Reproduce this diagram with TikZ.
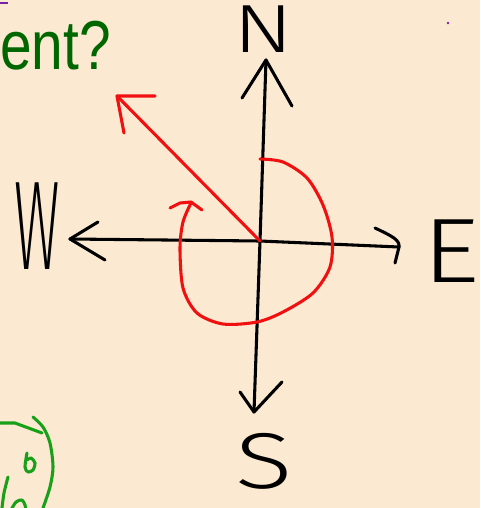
\documentclass[tikz,border=0pt]{standalone}
\usepackage{fontspec}
\usepackage{graphicx}
\setmainfont{Liberation Sans}
\newfontfamily\handfont{Fira Sans}[UprightFont=* Light]
\definecolor{slidePeach}{HTML}{FCE9D2}
\definecolor{titleGreen}{HTML}{006600}
\definecolor{penRed}{HTML}{F01010}
\definecolor{penGreen}{HTML}{18A018}
\definecolor{penPurple}{HTML}{7A1FA8}
\tikzset{
  ink/.style={line width=2.3pt, line cap=round, line join=round},
  letter/.style={inner sep=0pt, font=\handfont},
}

\begin{document}
\begin{tikzpicture}[x=0.75pt, y=-0.75pt]
  \useasboundingbox (0,0) rectangle (480,508);
  \clip (0,0) rectangle (480,508);
  \fill[slidePeach] (0,0) rectangle (480,508);

  % what is left of the slide title
  \node[font=\fontsize{52}{52}\selectfont, text=titleGreen, anchor=base west, inner sep=0pt] (title) at (0,69) {\scalebox{0.82}[1]{ent?}};
  \draw[penPurple, line width=2pt] (0,3) -- (8,3);
  \fill[penPurple] (448,23) circle (1.3);

  % compass
  \coordinate (O) at (260,241);
  \coordinate (Ntip) at (266,60);
  \coordinate (Stip) at (254,412);
  \coordinate (Wtip) at (70,239);
  \coordinate (Etip) at (399,247);
  \draw[ink] (Ntip) -- (O) -- (Stip);
  \draw[ink] (Wtip) -- (O) -- (Etip);
  \draw[ink] (242,98) -- (Ntip) -- (292,106);
  \draw[ink] (98,222) -- (Wtip) -- (105,260);
  \draw[ink] (375,228) .. controls (392,236) and (400,240) .. (Etip) -- (395,263);
  \draw[ink] (240,392) -- (Stip) -- (282,382);

  \node[letter] (N) at (264,29) {\resizebox{45pt}{35pt}{N}};
  \node[letter] (W) at (37,226) {\resizebox{34pt}{65pt}{W}};
  \node[letter] (E) at (451,251) {\resizebox{43pt}{47pt}{E}};
  \node[letter] (S) at (264,461) {\resizebox*{43pt}{42pt}{S}};

  % heading arrow and turn
  \coordinate (Rtip) at (117,96);
  \draw[ink, penRed] (O) -- (Rtip);
  \draw[ink, penRed] (155,96) -- (Rtip) -- (124,133);
  \draw[ink, penRed] plot[smooth] coordinates {(260,159) (283,162) (307,178) (323,205) (332,237) (330,267) (313,293) (283,312) (257,322) (223,324) (197,313) (183,288) (180,248) (183,222) (191,203)};
  \draw[ink, penRed] (170,208) -- (180,203) -- (191,202) -- (202,210);

  % green scribbles, bottom left
  \draw[ink, penGreen] (0,423) -- (15,423) -- (42,433);
  \draw[ink, penGreen] plot[smooth] coordinates {(33,417) (43,427) (50,443) (53,467) (50,487) (43,508)};
  \draw[ink, penGreen] plot[smooth] coordinates {(27,453) (25,467) (28,472) (33,470) (35,463) (31,458) (27,460)};
  \draw[ink, penGreen] plot[smooth] coordinates {(8,477) (4,493) (2,508)};
  \draw[ink, penGreen] plot[smooth] coordinates {(11,510) (16,502) (22,500) (25,505) (26,510)};
\end{tikzpicture}
\end{document}
